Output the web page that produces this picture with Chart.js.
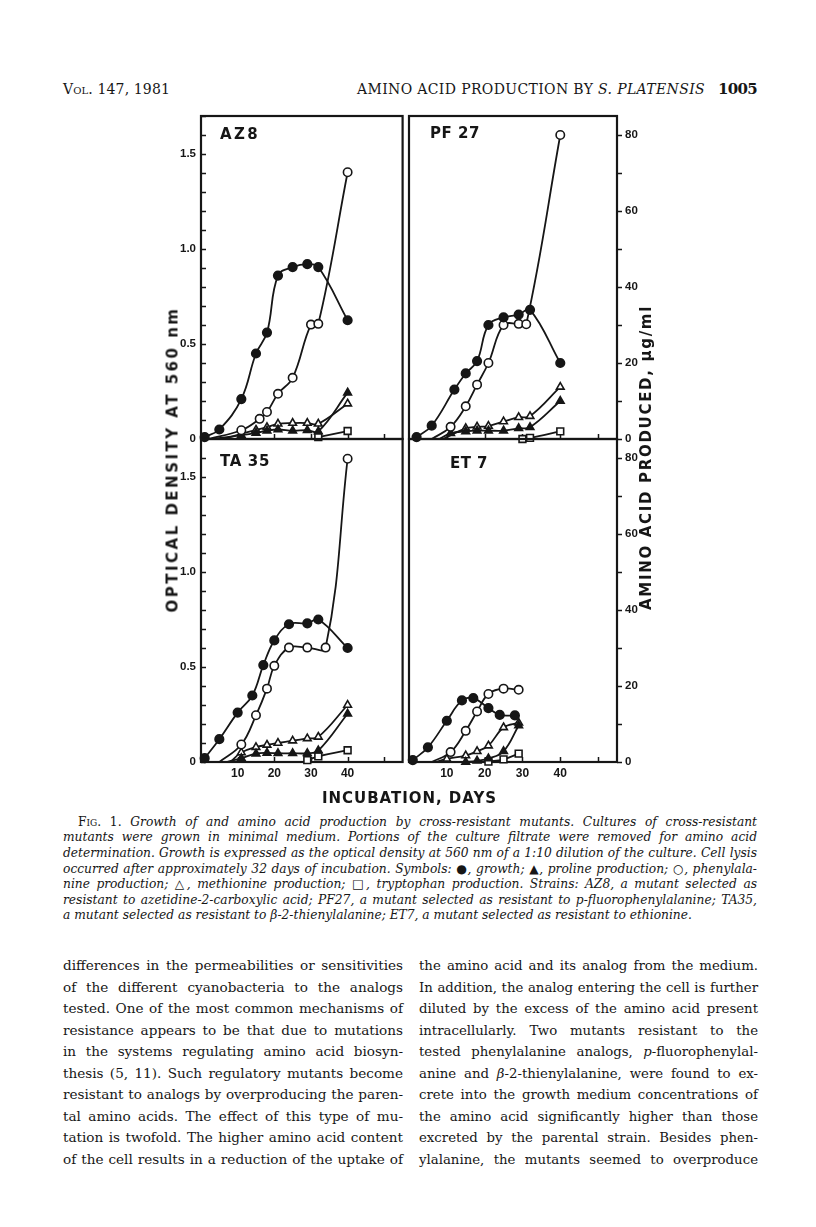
<!DOCTYPE html>
<html>
<head>
<meta charset="utf-8">
<script src="https://cdn.jsdelivr.net/npm/chart.js@4.4.0/dist/chart.umd.min.js"></script>
<style>
html, body { margin: 0; padding: 0; background: #fff; }
body { width: 816px; height: 1227px; position: relative; overflow: hidden; color: #161616; }
canvas { position: absolute; }
.t { position: absolute; white-space: nowrap; line-height: 1; }
.lab { font-family: "DejaVu Sans", sans-serif; font-weight: bold; }
.ser { font-family: "DejaVu Serif", serif; }
.ln { position: absolute; font-family: "DejaVu Serif", serif; line-height: 1; text-align: justify; text-align-last: justify; }
.cap { font-style: italic; }
.sc { font-variant: small-caps; font-style: normal; }
</style>
</head>
<body>

<!-- running head -->
<div class="t ser sc" id="hVol">Vol. 147, 1981</div>
<div class="t ser" id="hTitle">AMINO ACID PRODUCTION BY <i>S. PLATENSIS</i></div>
<div class="t ser" id="hPage" style="font-weight:bold">1005</div>

<!-- the four panels -->
<canvas id="cAZ8"></canvas>
<canvas id="cPF27"></canvas>
<canvas id="cTA35"></canvas>
<canvas id="cET7"></canvas>

<div class="t lab" id="nAZ8">AZ8</div>
<div class="t lab" id="nPF27">PF 27</div>
<div class="t lab" id="nTA35">TA 35</div>
<div class="t lab" id="nET7">ET 7</div>

<div class="t lab" id="yTitle">OPTICAL DENSITY AT 560 nm</div>
<div class="t lab" id="y2Title">AMINO ACID PRODUCED, µg/ml</div>
<div class="t lab" id="xTitle">INCUBATION, DAYS</div>

<!-- caption -->
<div class="ln cap" data-b="cap"><span class="sc">Fig. 1.</span> Growth of and amino acid production by cross-resistant mutants. Cultures of cross-resistant</div>
<div class="ln cap" data-b="cap">mutants were grown in minimal medium. Portions of the culture filtrate were removed for amino acid</div>
<div class="ln cap" data-b="cap">determination. Growth is expressed as the optical density at 560 nm of a 1:10 dilution of the culture. Cell lysis</div>
<div class="ln cap" data-b="cap">occurred after approximately 32 days of incubation. Symbols: ●, growth; ▲, proline production; ○, phenylala-</div>
<div class="ln cap" data-b="cap">nine production; △, methionine production; □, tryptophan production. Strains: AZ8, a mutant selected as</div>
<div class="ln cap" data-b="cap">resistant to azetidine-2-carboxylic acid; PF27, a mutant selected as resistant to p-fluorophenylalanine; TA35,</div>
<div class="ln cap" data-b="cap" style="text-align-last:left">a mutant selected as resistant to β-2-thienylalanine; ET7, a mutant selected as resistant to ethionine.</div>

<!-- body text -->
<div class="ln" data-b="left">differences in the permeabilities or sensitivities</div>
<div class="ln" data-b="left">of the different cyanobacteria to the analogs</div>
<div class="ln" data-b="left">tested. One of the most common mechanisms of</div>
<div class="ln" data-b="left">resistance appears to be that due to mutations</div>
<div class="ln" data-b="left">in the systems regulating amino acid biosyn-</div>
<div class="ln" data-b="left">thesis (5, 11). Such regulatory mutants become</div>
<div class="ln" data-b="left">resistant to analogs by overproducing the paren-</div>
<div class="ln" data-b="left">tal amino acids. The effect of this type of mu-</div>
<div class="ln" data-b="left">tation is twofold. The higher amino acid content</div>
<div class="ln" data-b="left">of the cell results in a reduction of the uptake of</div>

<div class="ln" data-b="right">the amino acid and its analog from the medium.</div>
<div class="ln" data-b="right">In addition, the analog entering the cell is further</div>
<div class="ln" data-b="right">diluted by the excess of the amino acid present</div>
<div class="ln" data-b="right">intracellularly. Two mutants resistant to the</div>
<div class="ln" data-b="right">tested phenylalanine analogs, <i>p</i>-fluorophenylal-</div>
<div class="ln" data-b="right">anine and <i>β</i>-2-thienylalanine, were found to ex-</div>
<div class="ln" data-b="right">crete into the growth medium concentrations of</div>
<div class="ln" data-b="right">the amino acid significantly higher than those</div>
<div class="ln" data-b="right">excreted by the parental strain. Besides phen-</div>
<div class="ln" data-b="right">ylalanine, the mutants seemed to overproduce</div>

<script>
// ---- data: [day, value]; growth in OD560, amino acids in µg/ml ----
// AZ8
const az8Growth = [[1, 0.01], [5, 0.05], [11, 0.21], [15, 0.45], [18, 0.56], [21, 0.86], [25, 0.905], [29, 0.92], [32, 0.905], [40, 0.625]];
const az8Phe = [[11, 2.3], [16, 5.3], [18, 7.1], [21, 11.9], [25, 16.1], [30, 30.1], [32, 30.3], [40, 70.2]];
const az8Pro = [[11, 1.0], [15, 1.6], [18, 2.2], [21, 2.5], [25, 2.2], [29, 2.3], [32, 2.0], [40, 12.2]];
const az8Met = [[15, 2.4], [18, 3.1], [21, 4.0], [25, 4.2], [29, 4.2], [32, 4.0], [40, 9.3]];
const az8Trp = [[32, 0.5], [40, 2.1]];
const az8Lead = { phe: 2, pro: 3, met: 6 };   // day where a curve leaves the baseline

// PF27
const pf27Growth = [[2, 0.01], [6, 0.07], [12, 0.26], [15, 0.345], [18, 0.41], [21, 0.6], [25, 0.64], [29, 0.655], [32, 0.68], [40, 0.4]];
const pf27Phe = [[11, 3.2], [15, 8.6], [18, 14.3], [21, 20.0], [25, 30.0], [29, 30.3], [31, 30.2], [40, 80]];
const pf27Pro = [[11, 1.5], [15, 2.0], [18, 2.2], [21, 2.2], [25, 2.2], [29, 2.8], [32, 3.1], [40, 10.0]];
const pf27Met = [[15, 2.8], [18, 3.2], [21, 3.4], [25, 4.6], [29, 5.7], [32, 6.0], [40, 13.7]];
const pf27Trp = [[30, 0], [32, 0.3], [40, 2.0]];
const pf27Lead = { phe: 6, pro: 8, met: 9 };

// TA35
const ta35Growth = [[1, 0.02], [5, 0.12], [10, 0.26], [14, 0.35], [17, 0.51], [20, 0.64], [24, 0.725], [29, 0.73], [32, 0.75], [40, 0.6]];
const ta35Phe = [[11, 4.6], [15, 12.3], [18, 19.3], [20, 25.3], [24, 30.1], [29, 30.1], [34, 30.1], [40, 79.8]];
const ta35Pro = [[11, 1.0], [15, 2.2], [18, 2.4], [21, 2.3], [25, 2.3], [29, 2.3], [32, 3.0], [40, 12.7]];
const ta35Met = [[11, 2.5], [15, 3.9], [18, 4.5], [21, 5.0], [25, 5.6], [29, 6.2], [32, 6.6], [40, 15.0]];
const ta35Trp = [[29, 0.5], [32, 1.5], [40, 3.1]];
const ta35Lead = { phe: 5, pro: 7, met: 8 };

// ET7
const et7Growth = [[1, 0.01], [5, 0.077], [10, 0.217], [14, 0.324], [17, 0.336], [21, 0.284], [24, 0.248], [28, 0.245]];
const et7Phe = [[11, 2.6], [15, 8.2], [18, 13.3], [21, 17.9], [25, 19.3], [29, 19.0]];
const et7Pro = [[15, 0], [18, 0.3], [21, 0.9], [25, 2.8], [29, 9.6]];
const et7Met = [[10, 0.8], [15, 1.7], [18, 2.8], [21, 4.3], [25, 9.1], [29, 10.3]];
const et7Trp = [[21, 0.1], [25, 0.7], [29, 2.2]];
const et7Lead = { phe: 6, met: 7 };

// axis ranges and tick labels
const dayRange = [0, 55];
const odRange = [0, 1.7];
const aaRange = [0, 85];
const dayLabels = [10, 20, 30, 40];
const odLabels = { 0: '0', 5: '0.5', 10: '1.0', 15: '1.5' };   // keyed by tenths
const aaLabels = [0, 20, 40, 60, 80];

// ---- layout ----
const ink = '#161616';
const L = 201, M = 409, R = 617, T = 116, H = 439, B = 762;
const PAD = 16, YAX = 45;

Chart.defaults.font.family = '"Liberation Sans", sans-serif';
Chart.defaults.font.weight = 'bold';
Chart.defaults.font.size = 11.5;
Chart.defaults.color = ink;

const STYLE = {
  growth: { axis: 'y', shape: 'circle', fill: true, r: 4.3 },
  phe: { axis: 'y2', shape: 'circle', fill: false, r: 4.2 },
  pro: { axis: 'y2', shape: 'triangle', fill: true, r: 4.4 },
  met: { axis: 'y2', shape: 'triangle', fill: false, r: 4.4 },
  trp: { axis: 'y2', shape: 'rect', fill: false, r: 4.8 }
};

const framePlugin = {
  id: 'frame',
  beforeDatasetsDraw(chart, args, opts) {
    const { ctx, chartArea: a, scales } = chart;
    ctx.save();
    ctx.strokeStyle = ink;
    ctx.lineWidth = 2.2;
    ctx.strokeRect(a.left, a.top, a.right - a.left, a.bottom - a.top);
    ctx.lineWidth = 1.5;
    ctx.beginPath();
    scales.x.ticks.forEach(t => {
      if (t.value <= 0) return;
      const px = Math.round(scales.x.getPixelForValue(t.value)) + 0.5;
      ctx.moveTo(px, a.bottom); ctx.lineTo(px, a.bottom - 5);
    });
    if (opts.side === 'left') {
      scales.y.ticks.forEach(t => {
        const py = Math.round(scales.y.getPixelForValue(t.value)) + 0.5;
        ctx.moveTo(a.left, py); ctx.lineTo(a.left + 5, py);
      });
    } else {
      scales.y2.ticks.forEach(t => {
        const py = Math.round(scales.y2.getPixelForValue(t.value)) + 0.5;
        ctx.moveTo(a.right, py); ctx.lineTo(a.right + 5, py);
      });
    }
    ctx.stroke();
    ctx.restore();
  }
};

function makeSet(key, pts, leadDay) {
  const s = STYLE[key];
  const hasLead = leadDay !== undefined;
  const data = (hasLead ? [[leadDay, 0]] : []).concat(pts).map(p => ({ x: p[0], y: p[1] }));
  return {
    data,
    yAxisID: s.axis,
    borderColor: ink,
    borderWidth: 1.8,
    tension: 0.4,
    pointStyle: s.shape,
    pointRadius: c => (hasLead && c.dataIndex === 0) ? 0 : s.r,
    pointBackgroundColor: s.fill ? ink : '#fff',
    pointBorderColor: ink,
    pointBorderWidth: 1.6,
    clip: false
  };
}

function panel(id, side, row, growth, phe, pro, met, trp, lead) {
  const cv = document.getElementById(id);
  const areaW = M - L, areaH = row === 'top' ? H - T : B - H;
  const xH = row === 'bottom' ? 30 : 16;
  const w = side === 'left' ? YAX + areaW : PAD + areaW + YAX;
  const h = PAD + areaH + xH;
  cv.width = w; cv.height = h;
  cv.style.left = (side === 'left' ? L - YAX : M - PAD) + 'px';
  cv.style.top = ((row === 'top' ? T : H) - PAD) + 'px';
  cv.style.width = w + 'px'; cv.style.height = h + 'px';

  const noGrid = { display: false, drawTicks: false };

  new Chart(cv, {
    type: 'line',
    data: {
      datasets: [
        makeSet('growth', growth),
        makeSet('phe', phe, lead.phe),
        makeSet('pro', pro, lead.pro),
        makeSet('met', met, lead.met),
        makeSet('trp', trp, lead.trp)
      ]
    },
    options: {
      responsive: false,
      animation: false,
      devicePixelRatio: 1,
      layout: { padding: { top: PAD, left: side === 'right' ? PAD : 0, right: 0, bottom: 0 } },
      plugins: { legend: { display: false }, tooltip: { enabled: false }, frame: { side } },
      scales: {
        x: {
          type: 'linear', min: dayRange[0], max: dayRange[1],
          grid: noGrid, border: { display: false },
          ticks: {
            display: row === 'bottom', stepSize: 10, includeBounds: false, autoSkip: false,
            maxRotation: 0, minRotation: 0, padding: 6, font: { size: 12, lineHeight: 1 },
            callback: v => dayLabels.includes(v) ? String(v) : ''
          },
          afterFit: s => { s.height = xH; }
        },
        y: {
          type: 'linear', position: 'left', min: odRange[0], max: odRange[1],
          display: side === 'left',
          grid: noGrid, border: { display: false },
          ticks: {
            stepSize: 0.1, maxTicksLimit: 100, includeBounds: false, autoSkip: false, padding: 5,
            font: { lineHeight: 1 },
            callback: v => odLabels[Math.round(v * 10)] ?? ''
          },
          afterFit: s => { s.width = side === 'left' ? YAX : 0; }
        },
        y2: {
          type: 'linear', position: 'right', min: aaRange[0], max: aaRange[1],
          display: side === 'right',
          grid: noGrid, border: { display: false },
          ticks: {
            stepSize: 10, maxTicksLimit: 100, includeBounds: false, autoSkip: false, padding: 8,
            font: { lineHeight: 1 },
            callback: v => aaLabels.includes(v) ? String(v) : ''
          },
          afterFit: s => { s.width = side === 'right' ? YAX : 0; }
        }
      }
    },
    plugins: [framePlugin]
  });
}

panel('cAZ8', 'left', 'top', az8Growth, az8Phe, az8Pro, az8Met, az8Trp, az8Lead);
panel('cPF27', 'right', 'top', pf27Growth, pf27Phe, pf27Pro, pf27Met, pf27Trp, pf27Lead);
panel('cTA35', 'left', 'bottom', ta35Growth, ta35Phe, ta35Pro, ta35Met, ta35Trp, ta35Lead);
panel('cET7', 'right', 'bottom', et7Growth, et7Phe, et7Pro, et7Met, et7Trp, et7Lead);

// ---- text placement ----
function place(id, size, left, cy, w, rot) {
  const el = document.getElementById(id);
  el.style.fontSize = size + 'px';
  const nat = el.getBoundingClientRect().width;
  const n = el.textContent.length;
  el.style.letterSpacing = ((w - nat) / n) + 'px';
  const r = el.getBoundingClientRect();
  if (rot) {
    el.style.left = (left - r.width / 2) + 'px';
    el.style.top = (cy - r.height / 2) + 'px';
    el.style.transform = 'rotate(-90deg)';
  } else {
    el.style.left = left + 'px';
    el.style.top = (cy - r.height / 2) + 'px';
  }
}

place('hVol', 14, 63, 89, 107);
place('hTitle', 14, 357, 89, 348);
place('hPage', 15, 718, 89, 39);

place('nAZ8', 15, 220, 134, 40);
place('nPF27', 15, 430, 133, 50);
place('nTA35', 15, 220, 461, 50);
place('nET7', 15, 450, 463, 38);

place('yTitle', 15, 173, 459, 306, true);
place('y2Title', 15, 646, 457, 305, true);
place('xTitle', 15, 322, 798, 175);

function natural(el) {
  const c = el.cloneNode(true);
  c.style.cssText += ';position:absolute;visibility:hidden;width:auto;display:inline-block;white-space:nowrap;left:0;top:0';
  document.body.appendChild(c);
  const w = c.getBoundingClientRect().width;
  c.remove();
  return w;
}

function block(name, base, y0, step, widths, lefts) {
  const lines = [...document.querySelectorAll('[data-b="' + name + '"]')];
  lines.forEach(el => { el.style.fontSize = base + 'px'; });
  let k = Infinity;
  lines.forEach((el, i) => { k = Math.min(k, widths(i) / natural(el)); });
  const fs = base * k * 0.992;
  lines.forEach((el, i) => {
    el.style.fontSize = fs + 'px';
    el.style.left = lefts(i) + 'px';
    el.style.width = widths(i) + 'px';
    el.style.top = (y0 + step * i - fs / 2) + 'px';
  });
}

block('cap', 13, 822, 15.6, i => i === 0 ? 679 : 694, i => i === 0 ? 78 : 63);
block('left', 14, 966, 21.5, () => 340, () => 63);
block('right', 14, 966, 21.5, () => 339, () => 419);
</script>
</body>
</html>
